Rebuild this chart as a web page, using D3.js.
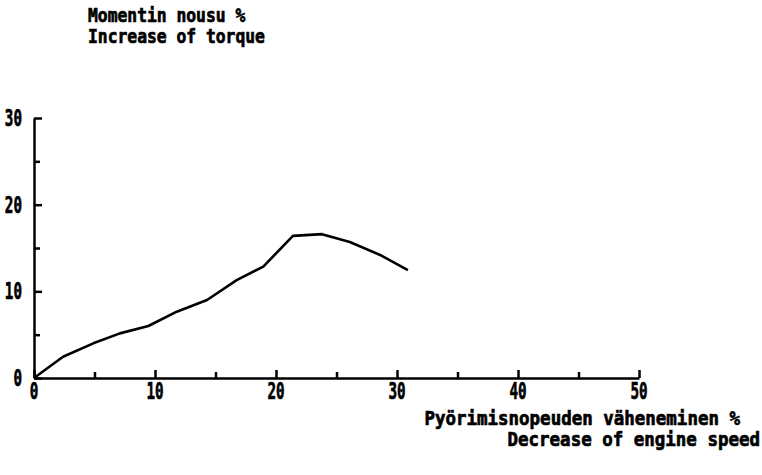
<!DOCTYPE html>
<html>
<head>
<meta charset="utf-8">
<script src="https://cdn.jsdelivr.net/npm/d3@7"></script>
<style>
  body { margin: 0; background: #fff; }
  svg { display: block; }
</style>
</head>
<body>
<script>
// data
const speed_decrease = [0, 2.4, 4.9, 7.1, 9.45, 11.8, 14.3, 16.75, 18.95, 21.4, 23.8, 26.1, 28.6, 30.9]
const torque_increase = [0, 2.45, 4.0, 5.15, 6.0, 7.65, 9.0, 11.3, 12.85, 16.4, 16.6, 15.7, 14.2, 12.45]
const x_major = [0, 10, 20, 30, 40, 50]
const x_minor = [5, 15, 25, 35, 45]
const y_major = [0, 10, 20, 30]
const y_minor = [5, 15, 25]
const x_labels = ['0', '10', '20', '30', '40', '50']
const y_labels = ['0', '10', '20', '30']
const title_lines = ['Momentin nousu %', 'Increase of torque']
const xtitle_lines = ['Pyörimisnopeuden väheneminen %', 'Decrease of engine speed']

const width = 762, height = 475
const font = "'DejaVu Sans Mono', 'Liberation Mono', monospace"

const x = d3.scaleLinear().domain([0, 50]).range([34, 639])
const y = d3.scaleLinear().domain([0, 30]).range([378, 118])

const svg = d3.select('body').append('svg')
    .attr('width', width)
    .attr('height', height)

// axes, ticks pointing into the plot
function style_axis(g) {
    g.selectAll('path, line').attr('stroke', '#000').attr('stroke-width', 2.5)
    g.selectAll('text').remove()
}

svg.append('g')
    .attr('transform', `translate(0,${y(0)})`)
    .call(d3.axisBottom(x).tickValues(x_major).tickSize(-8).tickSizeOuter(0))
    .call(style_axis)
svg.append('g')
    .attr('transform', `translate(0,${y(0)})`)
    .call(d3.axisBottom(x).tickValues(x_minor).tickSize(-6).tickSizeOuter(0))
    .call(style_axis)
    .call(g => g.select('.domain').remove())

svg.append('g')
    .attr('transform', `translate(${x(0)},0)`)
    .call(d3.axisLeft(y).tickValues(y_major).tickSize(-8).tickSizeOuter(0))
    .call(style_axis)
svg.append('g')
    .attr('transform', `translate(${x(0)},0)`)
    .call(d3.axisLeft(y).tickValues(y_minor).tickSize(-6).tickSizeOuter(0))
    .call(style_axis)
    .call(g => g.select('.domain').remove())

function bold_text(sel, size) {
    sel.style('font-family', font)
        .style('font-weight', 'bold')
        .style('font-size', size + 'px')
        .attr('fill', '#000')
        .attr('stroke', '#000')
        .attr('stroke-width', 0.7)
}

// tick labels
svg.selectAll('.xlab')
    .data(x_major)
    .enter()
    .append('text')
    .attr('class', 'xlab')
    .attr('transform', d => `translate(${x(d)},399) scale(0.62,1)`)
    .attr('text-anchor', 'middle')
    .call(bold_text, 23)
    .text((d, i) => x_labels[i])

svg.selectAll('.ylab')
    .data(y_major)
    .enter()
    .append('text')
    .attr('class', 'ylab')
    .attr('transform', d => `translate(22,${y(d) + 8}) scale(0.62,1)`)
    .attr('text-anchor', 'end')
    .call(bold_text, 23)
    .text((d, i) => y_labels[i])

// curve
const points = speed_decrease.map((d, i) => [d, torque_increase[i]])
svg.append('path')
    .datum(points)
    .attr('fill', 'none')
    .attr('stroke', '#000')
    .attr('stroke-width', 2.6)
    .attr('stroke-linejoin', 'round')
    .attr('d', d3.line().x(d => x(d[0])).y(d => y(d[1])))

// titles
title_lines.forEach((t, i) => {
    svg.append('text')
        .attr('transform', `translate(88,${22 + i * 21}) scale(0.86,1)`)
        .call(bold_text, 19)
        .text(t)
})
xtitle_lines.forEach((t, i) => {
    svg.append('text')
        .attr('transform', `translate(${740 + i * 20},${425 + i * 21}) scale(0.92,1)`)
        .attr('text-anchor', 'end')
        .call(bold_text, 19)
        .text(t)
})
</script>
</body>
</html>
